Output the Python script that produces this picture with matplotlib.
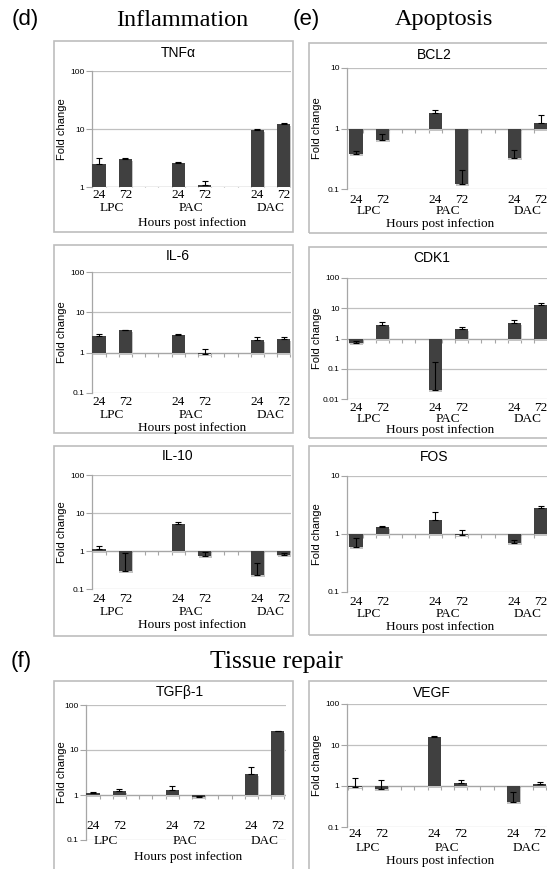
import matplotlib
matplotlib.use('Agg')
import matplotlib.pyplot as plt
from matplotlib.patches import Rectangle
from matplotlib.transforms import ScaledTranslation, blended_transform_factory

# ---------------- data ----------------
groups = ['LPC', 'PAC', 'DAC']
hours = ['24', '72']
xpos = [0, 1, 3, 4, 6, 7]

tnfa_val = [2.5, 3.1, 2.6, 1.1, 9.8, 12.0]
tnfa_err = [0.7, 0.05, 0.15, 0.15, 0.3, 0.5]
bcl2_val = [0.38, 0.65, 1.8, 0.12, 0.32, 1.25]
bcl2_err = [0.05, 0.15, 0.2, 0.09, 0.12, 0.45]
il6_val = [2.6, 3.6, 2.8, 0.93, 2.1, 2.2]
il6_err = [0.3, 0.1, 0.05, 0.32, 0.4, 0.2]
cdk1_val = [0.72, 2.9, 0.02, 2.0, 3.3, 13.0]
cdk1_err = [0.12, 0.7, 0.15, 0.4, 0.9, 1.5]
il10_val = [1.1, 0.3, 5.0, 0.72, 0.23, 0.78]
il10_err = [0.25, 0.6, 0.7, 0.2, 0.25, 0.12]
fos_val = [0.6, 1.3, 1.75, 0.97, 0.7, 2.8]
fos_err = [0.25, 0.08, 0.65, 0.18, 0.1, 0.3]
tgfb_val = [1.1, 1.25, 1.3, 0.88, 3.0, 26.0]
tgfb_err = [0.05, 0.1, 0.25, 0.05, 1.2, 1.0]
vegf_val = [0.95, 0.85, 16.0, 1.2, 0.4, 1.15]
vegf_err = [0.6, 0.55, 0.5, 0.2, 0.3, 0.1]

# ---------------- layout (pixels) ----------------
W, H = 547, 869
SERIF = 'Liberation Serif'
SANS = 'Liberation Sans'
BAR = '#404040'
SHADOW = '#c4c4c4'
GRID = '#c0c0c0'
BOX = '#bdbdbd'

fig = plt.figure(figsize=(W / 100, H / 100), dpi=100)


def fx(px):
    return px / W


def fy(py):
    return 1 - py / H


# panel specs: title, values, errors, ylim, box(x0,y0,x1,y1), axes(x0,x1,ytop,ybot),
# title y, tick label y, group y, hours y, first-bar centre px, ylabel x, title x, hours x
panels = [
    ('TNFα', tnfa_val, tnfa_err, (1, 100), (54, 41, 293, 232), (92, 291, 71, 187), 53, 195, 208, 223, 99, 62, 178, 192),
    ('BCL2', bcl2_val, bcl2_err, (0.1, 10), (309, 43, 560, 233), (347, 547, 68, 189), 55, 200, 211, 224, 356, 317, 434, 440),
    ('IL-6', il6_val, il6_err, (0.1, 100), (54, 245, 293, 433), (92, 291, 272, 393), 256, 402, 415, 428, 99, 62, 178, 192),
    ('CDK1', cdk1_val, cdk1_err, (0.01, 100), (309, 247, 560, 438), (347, 547, 278, 399), 258, 408, 419, 430, 356, 317, 432, 440),
    ('IL-10', il10_val, il10_err, (0.1, 100), (54, 446, 293, 636), (92, 291, 475, 589), 456, 599, 612, 625, 99, 62, 178, 192),
    ('FOS', fos_val, fos_err, (0.1, 10), (309, 446, 560, 635), (347, 547, 476, 592), 457, 602, 614, 627, 356, 317, 434, 440),
    ('TGFβ-1', tgfb_val, tgfb_err, (0.1, 100), (54, 681, 293, 885), (86, 286, 705, 840), 692, 826, 841, 857, 93, 62, 180, 188),
    ('VEGF', vegf_val, vegf_err, (0.1, 100), (309, 681, 560, 885), (347, 547, 704, 827), 693, 834, 848, 861, 355, 317, 432, 440),
]

STEP = 26.4


def fmt(v):
    if v >= 1:
        return '%d' % v
    return ('%g' % v)


for (title, vals, errs, ylim, box, axp, ty, tly, gly, hy, c0, ylx, tx, hx) in panels:
    # box
    fig.patches.append(Rectangle((fx(box[0]), fy(box[3])), fx(box[2]) - fx(box[0]),
                                 fy(box[1]) - fy(box[3]), transform=fig.transFigure,
                                 fill=False, edgecolor=BOX, linewidth=1.2, zorder=0))
    ax = fig.add_axes([fx(axp[0]), fy(axp[3]), fx(axp[1]) - fx(axp[0]), fy(axp[2]) - fy(axp[3])])
    ax.set_yscale('log')
    ax.set_ylim(*ylim)
    xl = ((axp[0] - c0) / STEP, (axp[1] - c0) / STEP)
    ax.set_xlim(*xl)
    ax.patch.set_alpha(0)
    for s in ['top', 'right', 'bottom']:
        ax.spines[s].set_visible(False)
    ax.spines['left'].set_color('#a6a6a6')
    ax.spines['left'].set_linewidth(0.9)
    ticks = []
    t = ylim[0]
    while t <= ylim[1] * 1.001:
        ticks.append(t)
        t *= 10
    ax.set_yticks(ticks)
    ax.set_yticklabels([fmt(t) for t in ticks], fontsize=6, family=SANS)
    ax.yaxis.set_minor_locator(matplotlib.ticker.NullLocator())
    ax.tick_params(axis='y', length=4, width=0.8, color='#a6a6a6', pad=1.5)
    ax.set_xticks([])
    for t in ticks:
        if t != 1:
            ax.axhline(t, color=GRID, lw=0.9, zorder=0)
    ax.axhline(1, color='#a6a6a6', lw=1.0, zorder=1)
    mt = [k * 0.5 - 0.25 for k in range(17) if xl[0] <= k * 0.5 - 0.25 <= xl[1]]
    ax.plot(mt, [1] * len(mt), ls='none', marker=3, ms=3, mew=0.8, color='#a6a6a6', zorder=1)

    heights = [v - 1 for v in vals]
    sh = ax.bar(xpos, heights, bottom=1, width=0.5, color=SHADOW, zorder=2)
    off = ScaledTranslation(0.6 / 100, -2.0 / 100, fig.dpi_scale_trans)
    for p in sh.patches:
        p.set_transform(ax.transData + off)
    ax.bar(xpos, heights, bottom=1, width=0.5, color=BAR, zorder=3)
    ax.errorbar(xpos, vals, yerr=[[0] * len(vals), errs], fmt='none', ecolor='black',
                elinewidth=0.8, capsize=2, capthick=0.8, zorder=4)

    # texts
    bt = blended_transform_factory(ax.transData, fig.transFigure)
    for i, x in enumerate(xpos):
        ax.text(x, fy(tly), hours[i % 2], transform=bt, ha='center', va='center',
                fontsize=9.5, family=SERIF)
    for g, gname in enumerate(groups):
        ax.text((xpos[2 * g] + xpos[2 * g + 1]) / 2, fy(gly), gname, transform=bt,
                ha='center', va='center', fontsize=9.5, family=SERIF)
    fig.text(fx(hx), fy(hy), 'Hours post infection', ha='center', va='center',
             fontsize=9.5, family=SERIF)
    fig.text(fx(tx), fy(ty), title, ha='center', va='center', fontsize=10, family=SANS)
    fig.text(fx(ylx), fy((axp[2] + axp[3]) / 2), 'Fold change', rotation=90,
             ha='center', va='center', fontsize=8, family=SANS)

# section headings
fig.text(fx(25), fy(19), '(d)', ha='center', va='center', fontsize=16, family=SANS)
fig.text(fx(182), fy(20), 'Inflammation', ha='center', va='center', fontsize=17.5, family=SERIF)
fig.text(fx(306), fy(19), '(e)', ha='center', va='center', fontsize=16, family=SANS)
fig.text(fx(444), fy(20), 'Apoptosis', ha='center', va='center', fontsize=17.5, family=SERIF)
fig.text(fx(21), fy(661), '(f)', ha='center', va='center', fontsize=16, family=SANS)
fig.text(fx(276), fy(662), 'Tissue repair', ha='center', va='center', fontsize=18.5, family=SERIF)

fig.savefig('out.png', dpi=100)
